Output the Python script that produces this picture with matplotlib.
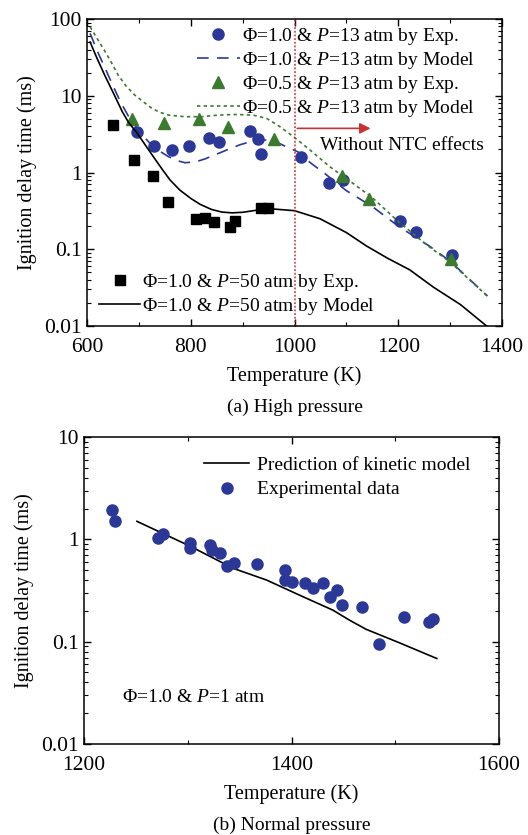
import numpy as np
import matplotlib
matplotlib.use("Agg")
import matplotlib.pyplot as plt
from matplotlib.ticker import FixedLocator, NullFormatter, LogLocator

plt.rcParams["font.family"] = ["Liberation Serif", "DejaVu Serif"]
plt.rcParams["mathtext.fontset"] = "custom"
plt.rcParams["mathtext.rm"] = "Liberation Serif"
plt.rcParams["mathtext.it"] = "Liberation Serif:italic"
plt.rcParams["font.size"] = 14

BLUE = "#2b3896"
GREEN = "#3b7a2f"
RED = "#c83232"

# ---- (a) high pressure data ----
T_exp_phi10_p13 = [696, 729, 764, 796, 836, 854, 914, 929, 935, 1012, 1066, 1094, 1203, 1234, 1303]
tau_exp_phi10_p13 = [3.34, 2.24, 1.94, 2.24, 2.79, 2.52, 3.51, 2.73, 1.76, 1.61, 0.72, 0.80, 0.233, 0.169, 0.084]

T_exp_phi05_p13 = [687, 748, 816, 872, 961, 1092, 1144, 1302]
tau_exp_phi05_p13 = [4.98, 4.37, 4.98, 3.95, 2.75, 0.91, 0.456, 0.074]

T_exp_phi10_p50 = [651, 691, 727, 757, 810, 827, 845, 876, 885, 935, 948]
tau_exp_phi10_p50 = [4.16, 1.44, 0.91, 0.413, 0.251, 0.255, 0.226, 0.197, 0.236, 0.348, 0.348]

T_mod_phi10_p13 = [606, 620, 635, 650, 665, 680, 700, 720, 740, 757, 775, 789, 810, 827, 845, 869,
                   895, 920, 945, 965, 985, 1007, 1030, 1060, 1100, 1150, 1200, 1260, 1300, 1372]
tau_mod_phi10_p13 = [65, 38, 22.8, 13.5, 8.2, 5.4, 3.5, 2.45, 1.9, 1.61, 1.42, 1.34, 1.38, 1.5, 1.68,
                     1.96, 2.3, 2.58, 2.65, 2.5, 2.15, 1.85, 1.35, 0.95, 0.58, 0.36, 0.2, 0.11, 0.07, 0.0245]

T_mod_phi05_p13 = [606, 620, 635, 650, 660, 675, 692, 710, 725, 740, 757, 789, 821, 853, 885, 920,
                   946, 972, 998, 1030, 1068, 1113, 1150, 1200, 1254, 1300, 1372]
tau_mod_phi05_p13 = [79, 55, 37.5, 25, 18.6, 13.5, 10.2, 8.2, 6.86, 6.1, 5.6, 5.33, 5.33, 5.6, 5.7, 5.6,
                     5.08, 3.95, 2.93, 1.96, 1.19, 0.72, 0.47, 0.23, 0.115, 0.068, 0.0245]

T_mod_phi10_p50 = [606, 620, 635, 654, 668, 680, 696, 712, 731, 745, 760, 779, 800, 818, 840, 860,
                   880, 900, 930, 958, 1000, 1049, 1100, 1139, 1180, 1222, 1268, 1320, 1376]
tau_mod_phi10_p50 = [50, 30, 18, 9.8, 6.2, 4.5, 3.3, 2.3, 1.5, 1.1, 0.8, 0.59, 0.46, 0.385, 0.33, 0.305,
                     0.298, 0.303, 0.325, 0.335, 0.318, 0.25, 0.165, 0.11, 0.076, 0.054, 0.032, 0.019, 0.0093]

# ---- (b) normal pressure data ----
T_exp_p1 = [1227, 1230, 1271, 1276, 1302, 1302, 1321, 1323, 1331, 1338, 1345, 1367, 1394, 1394,
            1400, 1413, 1421, 1430, 1437, 1444, 1449, 1468, 1484, 1508, 1533, 1536]
tau_exp_p1 = [1.92, 1.50, 1.02, 1.14, 0.92, 0.82, 0.875, 0.78, 0.73, 0.555, 0.59, 0.575, 0.496, 0.40,
              0.384, 0.378, 0.333, 0.373, 0.274, 0.323, 0.227, 0.219, 0.094, 0.174, 0.156, 0.166]

T_mod_p1 = [1251, 1302, 1344, 1376, 1408, 1440, 1456, 1472, 1504, 1540]
tau_mod_p1 = [1.50, 0.86, 0.52, 0.40, 0.284, 0.203, 0.162, 0.132, 0.0975, 0.0685]

W, H = 528, 835
fig = plt.figure(figsize=(W / 100, H / 100), dpi=100)
ax1 = fig.add_axes([87 / W, 1 - 326 / H, 415 / W, 307 / H])
ax2 = fig.add_axes([84 / W, 1 - 744 / H, 415 / W, 307 / H])

lab = lambda phi, p, kind: r"$\mathit{Φ}$=%s & $\mathit{P}$=%s atm by %s" % (phi, p, kind)

h1, = ax1.plot(T_exp_phi10_p13, tau_exp_phi10_p13, "o", color=BLUE, ms=8, label=lab("1.0", "13", "Exp."))
h2, = ax1.plot(T_mod_phi10_p13, tau_mod_phi10_p13, color=BLUE, lw=1.2, dashes=(7, 5), label=lab("1.0", "13", "Model"))
h3, = ax1.plot(T_exp_phi05_p13, tau_exp_phi05_p13, "^", color=GREEN, ms=9, label=lab("0.5", "13", "Exp."))
h4, = ax1.plot(T_mod_phi05_p13, tau_mod_phi05_p13, color=GREEN, lw=1.2, dashes=(2, 2), label=lab("0.5", "13", "Model"))
h5, = ax1.plot(T_exp_phi10_p50, tau_exp_phi10_p50, "s", color="black", ms=7.5, label=lab("1.0", "50", "Exp."))
h6, = ax1.plot(T_mod_phi10_p50, tau_mod_phi10_p50, color="black", lw=1.2, label=lab("1.0", "50", "Model"))

ax1.axvline(1000, color=RED, lw=1.1, ls=(0, (1.2, 1.2)))
ax1.annotate("", xy=(1152, 3.76), xytext=(1000, 3.76),
             arrowprops=dict(arrowstyle="-|>", color=RED, lw=1.2, mutation_scale=16))
ax1.text(1049, 2.28, "Without NTC effects", va="center", ha="left")

leg1 = ax1.legend(handles=[h1, h2, h3, h4], loc="upper left", bbox_to_anchor=(0.265, 0.978),
                  frameon=False, handlelength=2.2, handletextpad=0.1, labelspacing=0.15,
                  borderpad=0, borderaxespad=0, fontsize=14)
ax1.add_artist(leg1)
ax1.legend(handles=[h5, h6], loc="upper left", bbox_to_anchor=(0.03, 0.175),
           frameon=False, handlelength=2.1, handletextpad=0.1, labelspacing=0.15,
           borderpad=0, borderaxespad=0, fontsize=14)

ax1.set_yscale("log")
ax1.set_xlim(600, 1400)
ax1.set_ylim(0.01, 100)
ax1.set_xticks([600, 800, 1000, 1200, 1400])
ax1.xaxis.set_minor_locator(FixedLocator([700, 900, 1100, 1300]))
ax1.set_yticks([0.01, 0.1, 1, 10, 100])
ax1.set_yticklabels(["0.01", "0.1", "1", "10", "100"])
ax1.set_xlabel("Temperature (K)", labelpad=6, fontsize=14.5)
ax1.set_ylabel("Ignition delay time (ms)", labelpad=5, fontsize=14.5)
ax1.text(0.5, -0.265, "(a) High pressure", transform=ax1.transAxes, ha="center", va="center")

ax2.plot(T_mod_p1, tau_mod_p1, color="black", lw=1.2, label="Prediction of kinetic model")
ax2.plot(T_exp_p1, tau_exp_p1, "o", color=BLUE, ms=8, label="Experimental data")
ax2.legend(loc="upper left", bbox_to_anchor=(0.29, 0.937), frameon=False, handlelength=2.3,
           handletextpad=0.4, labelspacing=0.35, borderpad=0, borderaxespad=0, fontsize=14)
ax2.text(1237, 0.0287, r"$\mathit{Φ}$=1.0 & $\mathit{P}$=1 atm", va="center", ha="left")

ax2.set_yscale("log")
ax2.set_xlim(1200, 1600)
ax2.set_ylim(0.01, 10)
ax2.set_xticks([1200, 1400, 1600])
ax2.xaxis.set_minor_locator(FixedLocator([1300, 1500]))
ax2.set_yticks([0.01, 0.1, 1, 10])
ax2.set_yticklabels(["0.01", "0.1", "1", "10"])
ax2.set_xlabel("Temperature (K)", labelpad=6, fontsize=14.5)
ax2.set_ylabel("Ignition delay time (ms)", labelpad=5, fontsize=14.5)
ax2.text(0.5, -0.265, "(b) Normal pressure", transform=ax2.transAxes, ha="center", va="center")

for ax in (ax1, ax2):
    ax.yaxis.set_minor_locator(LogLocator(base=10, subs=np.arange(2, 10)))
    ax.yaxis.set_minor_formatter(NullFormatter())
    ax.tick_params(which="both", direction="in", top=True, right=True, labelsize=15.5, pad=4)
    ax.tick_params(axis="x", which="major", pad=9)
    ax.tick_params(which="major", length=5, width=1)
    ax.tick_params(which="minor", length=3, width=0.8)
    for s in ax.spines.values():
        s.set_linewidth(1.1)

fig.savefig("out.png", dpi=100)
